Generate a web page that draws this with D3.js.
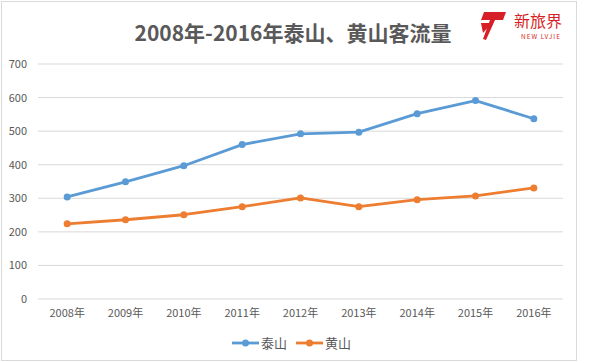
<!DOCTYPE html>
<html>
<head>
<meta charset="utf-8">
<script src="https://cdn.jsdelivr.net/npm/d3@7"></script>
<style>
  body { margin: 0; background: #fff; }
  svg text { font-family: "Noto Sans CJK SC", "Open Sans", sans-serif; }
</style>
</head>
<body>
<div id="chart"></div>
<script>
// data
var years = ['2008年', '2009年', '2010年', '2011年', '2012年', '2013年', '2014年', '2015年', '2016年']
var taishan = [304, 349, 397, 460, 492, 497, 552, 591, 537]
var huangshan = [224, 236, 251, 275, 301, 275, 296, 307, 331]
var yTicks = [0, 100, 200, 300, 400, 500, 600, 700]
var seriesNames = ['泰山', '黄山']
var colors = ['#5B9BD5', '#ED7D31']

var W = 590, H = 363
var margin = { top: 64, left: 38, right: 27, bottom: 64 }
var width = W - margin.left - margin.right
var height = H - margin.top - margin.bottom

var svg = d3.select('#chart').append('svg')
  .attr('width', W)
  .attr('height', H)

// outer frame
svg.append('rect')
  .attr('x', 1.5).attr('y', 1.5)
  .attr('width', 575).attr('height', 359)
  .attr('fill', 'none')
  .attr('stroke', '#d9d9d9')

svg.append('text')
  .attr('x', 293)
  .attr('y', 41)
  .attr('text-anchor', 'middle')
  .attr('font-size', 21)
  .attr('font-weight', 'bold')
  .attr('fill', '#595959')
  .text('2008年-2016年泰山、黄山客流量')

// logo
var logo = svg.append('g').attr('transform', 'translate(480,12)')
logo.append('path')
  .attr('d', 'M4,0 L26,0 L23,8 L15,8 L6,28 L3,27 L10,8 L1,8 Z')
  .attr('fill', '#d61f26')
logo.append('path')
  .attr('d', 'M1,11 L12,11 L3,21 Z')
  .attr('fill', '#d61f26')
logo.append('text')
  .attr('x', 34).attr('y', 15)
  .attr('font-size', 16)
  .attr('fill', '#d61f26')
  .text('新旅界')
logo.append('text')
  .attr('x', 61).attr('y', 27)
  .attr('text-anchor', 'middle')
  .attr('font-size', 6.5)
  .attr('letter-spacing', 1)
  .attr('fill', '#d61f26')
  .text('NEW LVJIE')

var g = svg.append('g')
  .attr('transform', `translate(${margin.left},${margin.top})`)

var x = d3.scaleBand().domain(years).range([0, width])
var y = d3.scaleLinear().domain([0, 700]).range([height, 0])

// gridlines
g.selectAll('.grid')
  .data(yTicks)
  .enter()
  .append('line')
  .attr('x1', 0).attr('x2', width)
  .attr('y1', d => y(d)).attr('y2', d => y(d))
  .attr('stroke', '#d9d9d9')

var yAxis = g.append('g').call(d3.axisLeft(y).tickValues(yTicks).tickSize(0).tickPadding(11))
yAxis.select('.domain').remove()
yAxis.selectAll('text').attr('font-size', 11).attr('fill', '#595959')

var xAxis = g.append('g')
  .attr('transform', `translate(0,${height})`)
  .call(d3.axisBottom(x).tickSize(0).tickPadding(10))
xAxis.select('.domain').remove()
xAxis.selectAll('text').attr('font-size', 11).attr('fill', '#595959')

var line = d3.line()
  .x((d, i) => x(years[i]) + x.bandwidth() / 2)
  .y(d => y(d))

var series = [taishan, huangshan]
series.forEach(function(vals, k) {
  g.append('path')
    .datum(vals)
    .attr('d', line)
    .attr('fill', 'none')
    .attr('stroke', colors[k])
    .attr('stroke-width', 2.8)
    .attr('stroke-linejoin', 'round')
  g.selectAll('.pt' + k)
    .data(vals)
    .enter()
    .append('circle')
    .attr('cx', (d, i) => x(years[i]) + x.bandwidth() / 2)
    .attr('cy', d => y(d))
    .attr('r', 3.5)
    .attr('fill', colors[k])
})

// legend
var legend = svg.append('g').attr('transform', 'translate(232,343)')
var lx = [0, 64]
seriesNames.forEach(function(name, k) {
  var item = legend.append('g').attr('transform', `translate(${lx[k]},0)`)
  item.append('line')
    .attr('x1', 0).attr('x2', 27)
    .attr('stroke', colors[k]).attr('stroke-width', 2.8)
  item.append('circle').attr('cx', 13.5).attr('r', 3.5).attr('fill', colors[k])
  item.append('text')
    .attr('x', 29).attr('y', 5)
    .attr('font-size', 13)
    .attr('fill', '#595959')
    .text(name)
})
</script>
</body>
</html>
